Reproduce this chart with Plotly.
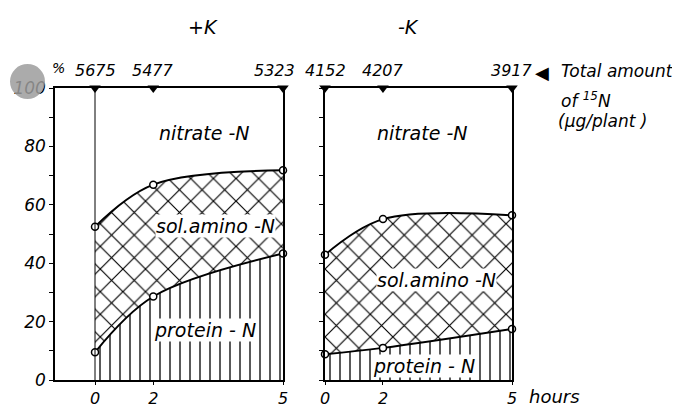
import numpy as np
import plotly.graph_objects as go

# ---------------- data ----------------
hours = [0, 2, 5]
hour_labels = ["0", "2", "5"]
y_major = [0, 20, 40, 60, 80, 100]
y_major_labels = ["0", "20", "40", "60", "80", "100"]
y_minor = [10, 30, 50, 70, 90]

plus_k_protein = [9.5, 28.6, 43.3]          # % protein-N
plus_k_amino_top = [52.5, 66.9, 71.8]       # % protein-N + sol. amino-N
minus_k_protein = [8.8, 11.0, 17.5]
minus_k_amino_top = [42.9, 55.1, 56.4]
plus_k_totals = ["5675", "5477", "5323"]    # total 15N, µg/plant
minus_k_totals = ["4152", "4207", "3917"]

# the original time axis is not linear: 2 h sits at ~31 % of the 0-5 h span
AXIS_HOURS = [0, 2, 5]
AXIS_POS = [0, 1.55, 5]


def tpos(h):
    return list(np.interp(h, AXIS_HOURS, AXIS_POS))


OFF = 8                       # the page body adds an 8 px margin around the figure
W, H = 680 - OFF, 408 - OFF   # so the figure fills the rest of the window
FONT = "DejaVu Sans"


def fx(px):
    return (px - OFF) / W


def fy(py):
    return 1 - (py - OFF) / H


def P(px, py):
    return fx(px), fy(py)


fig = go.Figure()


def panel(xa, ya, protein, amino_top, totals, last_label_shift):
    xs = tpos(hours)
    fig.add_trace(go.Scatter(
        x=xs, y=protein, xaxis=xa, yaxis=ya, mode="lines",
        line=dict(color="black", width=2, shape="spline", smoothing=1),
        fill="tozeroy", fillcolor="white",
        fillpattern=dict(shape="|", size=10, solidity=0.13, fgcolor="black",
                         fgopacity=1, bgcolor="white"),
        showlegend=False, hoverinfo="skip"))
    fig.add_trace(go.Scatter(
        x=xs, y=amino_top, xaxis=xa, yaxis=ya, mode="lines",
        line=dict(color="black", width=2, shape="spline", smoothing=1),
        fill="tonexty", fillcolor="white",
        fillpattern=dict(shape="x", size=16, solidity=0.14, fgcolor="black",
                         fgopacity=1, bgcolor="white"),
        showlegend=False, hoverinfo="skip"))
    # open circles at measured points
    fig.add_trace(go.Scatter(
        x=xs + xs, y=protein + amino_top, xaxis=xa, yaxis=ya, mode="markers",
        marker=dict(symbol="circle", size=7, color="white", line=dict(color="black", width=1.5)),
        cliponaxis=False, showlegend=False, hoverinfo="skip"))
    # total amount markers on the 100 % line
    fig.add_trace(go.Scatter(
        x=xs, y=[100] * len(xs), xaxis=xa, yaxis=ya, mode="markers",
        marker=dict(symbol="triangle-down", size=10, color="black"),
        cliponaxis=False, showlegend=False, hoverinfo="skip"))
    for i, (xv, t) in enumerate(zip(xs, totals)):
        fig.add_annotation(
            x=xv, y=100, xref=xa, yref=ya, text=t, showarrow=False,
            xanchor="center", yanchor="bottom", yshift=6,
            xshift=last_label_shift if i == len(xs) - 1 else 0,
            font=dict(family=FONT, size=16, color="black", style="italic"))


panel("x", "y", plus_k_protein, plus_k_amino_top, plus_k_totals, -9)
panel("x2", "y2", minus_k_protein, minus_k_amino_top, minus_k_totals, 0)

axis_common = dict(showline=True, linecolor="black", linewidth=1.5, mirror=True,
                   showgrid=False, zeroline=False, ticks="outside",
                   tickcolor="black", tickwidth=1, automargin=False)
x_tick_font = dict(family=FONT, size=16, color="black", style="italic")
y_tick_font = dict(family=FONT, size=17, color="black", style="italic")
y_minor_ticks = dict(tickvals=y_minor, ticks="outside", ticklen=4,
                     tickcolor="black", tickwidth=1, showgrid=False)

fig.update_layout(
    width=W, height=H,
    margin=dict(l=0, r=0, t=0, b=0, pad=0),
    paper_bgcolor="white", plot_bgcolor="white",
    font=dict(family=FONT, color="black", style="italic"),
    xaxis=dict(domain=[fx(55), fx(283)], range=[-1.064, 5], tickfont=x_tick_font,
               ticklen=3, tickvals=tpos(hours), ticktext=hour_labels, **axis_common),
    xaxis2=dict(domain=[fx(325), fx(512)], range=[0, 5], anchor="y2", tickfont=x_tick_font,
                ticklen=3, tickvals=tpos(hours), ticktext=hour_labels, **axis_common),
    yaxis=dict(domain=[fy(380), fy(88)], range=[0, 100], tickfont=y_tick_font, ticklen=4,
               tickvals=y_major, ticktext=y_major_labels, minor=y_minor_ticks,
               **axis_common),
    yaxis2=dict(domain=[fy(380), fy(88)], range=[0, 100], anchor="x2", ticklen=4,
                tickvals=y_major, showticklabels=False, minor=y_minor_ticks,
                **axis_common),
)

# thin vertical line at t = 0 in the +K panel
fig.add_shape(type="line", xref="x", yref="y", x0=0, x1=0, y0=0, y1=100,
              line=dict(color="black", width=1))

# scan stain in the top-left corner
x0, y0 = P(10, 99)
x1, y1 = P(45, 64)
fig.add_shape(type="circle", xref="paper", yref="paper", x0=x0, y0=y0, x1=x1, y1=y1,
              fillcolor="#9c9c9c", line=dict(width=0), opacity=0.85, layer="above")


def ann(text, px, py, size=19, bg=None, xanchor="center"):
    x, y = P(px, py)
    fig.add_annotation(x=x, y=y, xref="paper", yref="paper", text=text, showarrow=False,
                       xanchor=xanchor, yanchor="middle",
                       font=dict(family=FONT, size=size, color="black", style="italic"),
                       bgcolor=bg, borderpad=0)


ann("+K", 203, 27, size=19)
ann("-K", 408, 27, size=19)
ann("%", 58, 68, size=14)
ann("nitrate -N", 204, 133)
ann("nitrate -N", 422, 133)
ann("sol.amino -N", 215, 226, bg="white")
ann("sol.amino -N", 437, 280, bg="white")
ann("protein - N", 205, 330, bg="white")
ann("protein - N", 424, 366, bg="white")
ann("hours", 528, 396, size=18, xanchor="left")
ann("◀", 542, 72, size=18)
ann("Total amount", 560, 71, size=17, xanchor="left")
ann("of <sup>15</sup>N", 560, 100, size=17, xanchor="left")
ann("(µg/plant )", 557, 121, size=17, xanchor="left")

fig.write_html("out.html")
